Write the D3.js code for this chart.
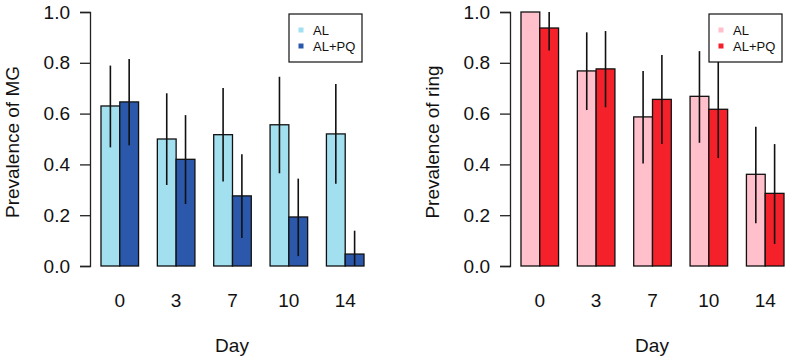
<!DOCTYPE html>
<html>
<head>
<meta charset="utf-8">
<script src="https://cdn.jsdelivr.net/npm/d3@7"></script>
<style>
  body { margin: 0; background: #fff; }
  svg { display: block; font-family: "Liberation Sans", Arial, sans-serif; }
</style>
</head>
<body>
<svg></svg>
<script>
var days = ['0', '3', '7', '10', '14'];
var series = ['AL', 'AL+PQ'];
var yTicks = [0, 0.2, 0.4, 0.6, 0.8, 1.0];

// MG panel
var mgAL = [0.63, 0.50, 0.517, 0.556, 0.52];
var mgALPQ = [0.646, 0.42, 0.276, 0.193, 0.047];
var mgALLo = [0.467, 0.319, 0.333, 0.365, 0.324];
var mgALHi = [0.789, 0.68, 0.701, 0.745, 0.717];
var mgALPQLo = [0.475, 0.244, 0.11, 0.039, 0.0];
var mgALPQHi = [0.815, 0.594, 0.44, 0.344, 0.139];

// ring panel
var ringAL = [1.0, 0.768, 0.587, 0.668, 0.361];
var ringALPQ = [0.937, 0.776, 0.656, 0.617, 0.286];
var ringALLo = [1.0, 0.614, 0.404, 0.485, 0.168];
var ringALHi = [1.0, 0.92, 0.768, 0.846, 0.548];
var ringALPQLo = [0.848, 0.625, 0.48, 0.425, 0.087];
var ringALPQHi = [1.0, 0.925, 0.831, 0.81, 0.48];

var width = 787;
var height = 361;
var fontSize = '19px';

var svg = d3.select('svg')
    .attr('width', width)
    .attr('height', height);

var y = d3.scaleLinear().domain([0, 1]).range([266, 12]);

drawPanel(0, 'Prevalence of MG', ['#a3e0ef', '#2b58aa'],
    [mgAL, mgALPQ], [mgALLo, mgALPQLo], [mgALHi, mgALPQHi]);
drawPanel(420, 'Prevalence of ring', ['#ffc0cb', '#f4202a'],
    [ringAL, ringALPQ], [ringALLo, ringALPQLo], [ringALHi, ringALPQHi]);

function drawPanel(dx, ylabel, colors, vals, lo, hi) {
    // R barplot units: each group = 1 space + 2 bars
    var x = d3.scaleLinear().domain([0, 15]).range([82.2 + dx, 364 + dx]);
    var g = svg.append('g');

    var bars = [];
    days.forEach(function (d, i) {
        series.forEach(function (s, j) {
            var start = i * 3 + 1 + j;
            bars.push({ x0: start, x1: start + 1, v: vals[j][i], lo: lo[j][i], hi: hi[j][i], c: colors[j] });
        });
    });

    g.selectAll('rect.bar')
        .data(bars)
        .enter()
        .append('rect')
        .attr('class', 'bar')
        .attr('x', function (d) { return x(d.x0); })
        .attr('width', function (d) { return x(d.x1) - x(d.x0); })
        .attr('y', function (d) { return y(d.v); })
        .attr('height', function (d) { return y(0) - y(d.v); })
        .attr('fill', function (d) { return d.c; })
        .attr('stroke', '#111')
        .attr('stroke-width', 1.3);

    g.selectAll('line.err')
        .data(bars.filter(function (d) { return d.hi > d.lo; }))
        .enter()
        .append('line')
        .attr('class', 'err')
        .attr('x1', function (d) { return x((d.x0 + d.x1) / 2); })
        .attr('x2', function (d) { return x((d.x0 + d.x1) / 2); })
        .attr('y1', function (d) { return y(d.lo); })
        .attr('y2', function (d) { return y(d.hi); })
        .attr('stroke', '#111')
        .attr('stroke-width', 1.6);

    // y axis
    var yAxis = d3.axisLeft(y)
        .tickValues(yTicks)
        .tickFormat(d3.format('.1f'))
        .tickSize(10)
        .tickPadding(10);
    var ya = g.append('g')
        .attr('transform', 'translate(' + (90 + dx) + ',0)')
        .call(yAxis);
    ya.select('.domain').attr('stroke', '#222').attr('stroke-width', 1.3);
    ya.selectAll('.tick line').attr('stroke', '#222').attr('stroke-width', 1.3);
    ya.selectAll('.tick text')
        .attr('fill', '#111')
        .style('font-size', fontSize)
        .style('font-family', '"Liberation Sans", Arial, sans-serif');

    // x tick labels (no axis line)
    g.selectAll('text.day')
        .data(days)
        .enter()
        .append('text')
        .attr('class', 'day')
        .attr('x', function (d, i) { return x(i * 3 + 2); })
        .attr('y', 307)
        .attr('text-anchor', 'middle')
        .attr('fill', '#111')
        .style('font-size', fontSize)
        .text(function (d) { return d; });

    g.append('text')
        .attr('x', 232 + dx)
        .attr('y', 352)
        .attr('text-anchor', 'middle')
        .attr('fill', '#111')
        .style('font-size', fontSize)
        .text('Day');

    g.append('text')
        .attr('transform', 'translate(' + (19 + dx) + ',142) rotate(-90)')
        .attr('text-anchor', 'middle')
        .attr('fill', '#111')
        .style('font-size', fontSize)
        .text(ylabel);

    // legend
    var lg = g.append('g');
    lg.append('rect')
        .attr('x', 289 + dx)
        .attr('y', 14)
        .attr('width', 73)
        .attr('height', 48)
        .attr('fill', '#fff')
        .attr('stroke', '#111')
        .attr('stroke-width', 1.2);
    series.forEach(function (s, j) {
        lg.append('rect')
            .attr('x', 298.5 + dx)
            .attr('y', 27.5 + j * 16)
            .attr('width', 5)
            .attr('height', 5)
            .attr('fill', colors[j]);
        lg.append('text')
            .attr('x', 313 + dx)
            .attr('y', 35 + j * 16)
            .attr('fill', '#111')
            .style('font-size', '13px')
            .text(s);
    });
}
</script>
</body>
</html>
